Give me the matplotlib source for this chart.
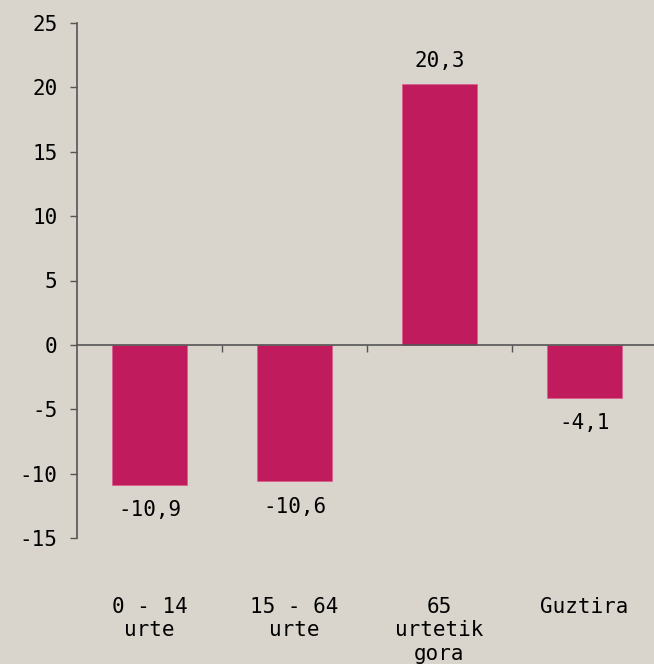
import matplotlib
matplotlib.use("Agg")
import matplotlib.pyplot as plt

categories = ["0 - 14\nurte", "15 - 64\nurte", "65\nurtetik\ngora", "Guztira"]
values = [-10.9, -10.6, 20.3, -4.1]
labels = ["-10,9", "-10,6", "20,3", "-4,1"]

BG = "#D9D5CC"
BAR = "#C01B5C"

plt.rcParams["font.family"] = ["DejaVu Sans Mono"]

fig = plt.figure(figsize=(6.54, 6.64), dpi=100, facecolor=BG)
ax = fig.add_axes([77 / 654, 126 / 664, 580 / 654, 515 / 664], facecolor=BG)

x = list(range(len(values)))
ax.bar(x, values, width=0.52, color=BAR, edgecolor="#D9608E", linewidth=0.6, zorder=2)

ax.set_xlim(-0.5, len(values) - 0.5)
ax.set_ylim(-15, 25)
ax.set_yticks(range(-15, 30, 5))
ax.set_yticklabels([str(v) for v in range(-15, 30, 5)], fontsize=15)

# category boundary ticks on the zero line
ax.spines["bottom"].set_position(("data", 0))
ax.set_xticks([i + 0.5 for i in range(len(values) - 1)])
ax.set_xticklabels([])
for s in ["top", "right"]:
    ax.spines[s].set_visible(False)
for s in ["left", "bottom"]:
    ax.spines[s].set_color("#555555")
    ax.spines[s].set_linewidth(1.2)
ax.tick_params(axis="y", direction="out", length=5, width=1, color="#555555", pad=9)
ax.tick_params(axis="x", direction="out", length=5, width=1, color="#555555")

# value labels
for xi, v, lab in zip(x, values, labels):
    if v >= 0:
        ax.annotate(lab, (xi, v), xytext=(0, 9), textcoords="offset points",
                    ha="center", va="bottom", fontsize=15)
    else:
        ax.annotate(lab, (xi, v), xytext=(0, -11), textcoords="offset points",
                    ha="center", va="top", fontsize=15)

# category labels below the plot
for xi, cat in zip(x, categories):
    ax.text(xi, -0.115, cat, transform=ax.get_xaxis_transform(),
            ha="center", va="top", fontsize=15, linespacing=1.2)

fig.savefig("out.png", dpi=100, facecolor=BG)
